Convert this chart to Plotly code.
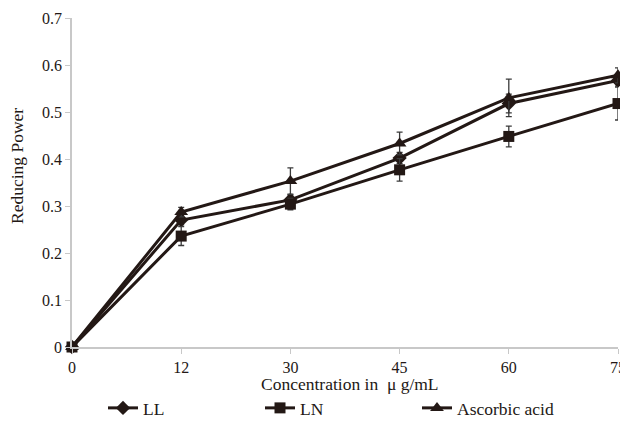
import plotly.graph_objects as go

categories = ["0", "12", "30", "45", "60", "75"]
ll_values = [0, 0.270, 0.313, 0.402, 0.518, 0.567]
ll_err = [0, 0.010, 0.010, 0.012, 0.020, 0.012]
ln_values = [0, 0.236, 0.304, 0.377, 0.448, 0.518]
ln_err = [0, 0.020, 0.012, 0.024, 0.022, 0.035]
aa_values = [0, 0.287, 0.353, 0.433, 0.530, 0.578]
aa_err = [0, 0.010, 0.028, 0.024, 0.040, 0.016]

xpos = list(range(len(categories)))
color = "#231815"
font = "Liberation Serif, Times New Roman, serif"

OFF = 8  # page body margin
W, H = 628, 414
ML, MR, MT, MB = 64, 18, 10, 75
PW, PH = W - ML - MR, H - MT - MB

def px(xp):  # page x -> paper x
    return (xp - OFF - ML) / PW

def py(yp):  # page y -> paper y
    return (H - MB - (yp - OFF)) / PH

fig = go.Figure()
for name, vals, err, sym, size in [
    ("LL", ll_values, ll_err, "diamond", 11),
    ("LN", ln_values, ln_err, "square", 11),
    ("Ascorbic acid", aa_values, aa_err, "triangle-up", 12),
]:
    fig.add_trace(go.Scatter(
        x=xpos, y=vals, name=name, mode="lines+markers",
        line=dict(color=color, width=3),
        marker=dict(symbol=sym, size=size, color=color),
        error_y=dict(type="data", array=err, color="#3a3a3a", thickness=1.3, width=3),
        cliponaxis=False,
    ))

fig.update_layout(
    width=W, height=H,
    margin=dict(l=ML, r=MR, t=MT, b=MB),
    paper_bgcolor="white", plot_bgcolor="white",
    font=dict(family=font, size=16, color="#231815"),
    showlegend=True,
    legend=dict(orientation="h", xref="container", yref="container",
                x=(103 - OFF)/W, y=(H - (408 - OFF))/H, xanchor="left", yanchor="middle",
                entrywidth=112, entrywidthmode="pixels",
                font=dict(size=17.5, family=font), itemwidth=30,
                bgcolor="rgba(0,0,0,0)"),
    xaxis=dict(
        range=[0, 5], tickvals=xpos, ticktext=categories,
        showgrid=False, zeroline=False, automargin=False,
        ticklabeloverflow="allow",
        showline=True, linecolor="#c8c8c8", linewidth=1.5,
        ticks="outside", tickcolor="#c8c8c8", ticklen=5,
    ),
    yaxis=dict(
        range=[0, 0.7], dtick=0.1, tickformat="~g",
        showgrid=False, zeroline=False, automargin=False,
        showline=True, linecolor="#c8c8c8", linewidth=1.5,
        ticks="outside", tickcolor="#c8c8c8", ticklen=5,
    ),
    annotations=[
        dict(text="Reducing Power", textangle=-90, showarrow=False,
             xref="paper", yref="paper", x=px(17), y=py(166),
             xanchor="center", yanchor="middle",
             font=dict(size=17.5, family=font)),
        dict(text="Concentration in  μ g/mL", showarrow=False,
             xref="paper", yref="paper", x=px(350), y=py(384),
             xanchor="center", yanchor="middle",
             font=dict(size=17.5, family=font)),
    ],
)

fig.write_html("out.html")
